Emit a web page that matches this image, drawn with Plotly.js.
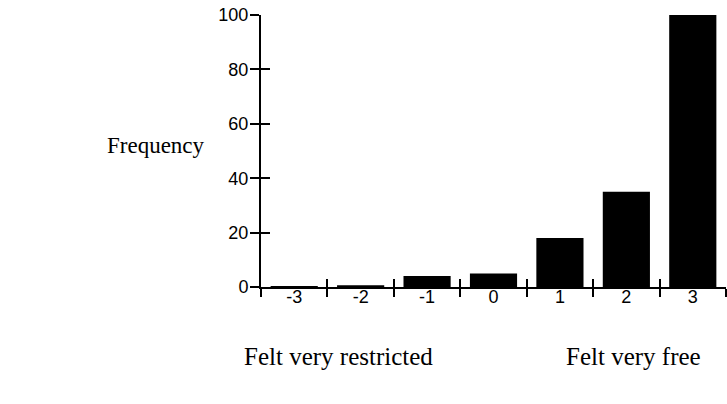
<!DOCTYPE html>
<html>
<head>
<meta charset="utf-8">
<script src="https://cdn.plot.ly/plotly-3.0.1.min.js"></script>
<style>html,body{margin:0;padding:0;background:#fff;}#chart{width:727px;height:404px;}</style>
</head>
<body>
<div id="chart"></div>
<script>
// Data
const categories = ['-3', '-2', '-1', '0', '1', '2', '3'];
const frequencies = [0.4, 0.6, 4, 5, 18, 35, 100];
const yTickValues = [0, 20, 40, 60, 80, 100];
const yTitle = 'Frequency';
const leftLabel = 'Felt very restricted';
const rightLabel = 'Felt very free';

const sansFont = {family: 'Liberation Sans, Arial, sans-serif', size: 18, color: '#000'};
const serifFamily = 'Liberation Serif, Times New Roman, serif';

const traces = [
  {
    type: 'bar', x: categories, y: frequencies,
    marker: {color: '#000', line: {width: 0}},
    hoverinfo: 'skip', showlegend: false
  },
  {
    // invisible twin on overlay axes so the crossing half of each tick is drawn
    type: 'bar', x: categories, y: frequencies, xaxis: 'x2', yaxis: 'y2',
    marker: {color: 'rgba(0,0,0,0)'}, hoverinfo: 'skip', showlegend: false
  }
];

const commonX = {
  type: 'category', categoryorder: 'array', categoryarray: categories,
  range: [-0.5, categories.length - 0.5], tickson: 'boundaries',
  ticklen: 8, tickwidth: 2, tickcolor: '#000',
  showgrid: false, zeroline: false, fixedrange: true
};
const commonY = {
  range: [0, 100], tickvals: yTickValues,
  ticklen: 9, tickwidth: 2, tickcolor: '#000',
  showgrid: false, zeroline: false, fixedrange: true
};

const layout = {
  width: 727, height: 404,
  margin: {l: 261, r: 1, t: 15, b: 117},
  paper_bgcolor: '#fff', plot_bgcolor: '#fff',
  bargap: 0.29,
  showlegend: false,
  xaxis: Object.assign({}, commonX, {
    ticks: 'outside', showline: true, linewidth: 2, linecolor: '#000',
    tickfont: sansFont, ticklabelstandoff: -8
  }),
  xaxis2: Object.assign({}, commonX, {
    overlaying: 'x', anchor: 'y', ticks: 'inside', showline: false, showticklabels: false
  }),
  yaxis: Object.assign({}, commonY, {
    ticks: 'outside', showline: true, linewidth: 2, linecolor: '#000',
    tickfont: sansFont, ticklabelstandoff: -2
  }),
  yaxis2: Object.assign({}, commonY, {
    overlaying: 'y', anchor: 'x', ticks: 'inside', showline: false, showticklabels: false
  }),
  annotations: [
    {text: yTitle, xref: 'paper', yref: 'paper', x: -0.226, y: 0.522,
     xanchor: 'center', yanchor: 'middle', showarrow: false,
     font: {family: serifFamily, size: 23, color: '#000'}},
    {text: leftLabel, xref: 'paper', yref: 'paper', x: 0.166, y: -0.254,
     xanchor: 'center', yanchor: 'middle', showarrow: false,
     font: {family: serifFamily, size: 25, color: '#000'}},
    {text: rightLabel, xref: 'paper', yref: 'paper', x: 0.802, y: -0.254,
     xanchor: 'center', yanchor: 'middle', showarrow: false,
     font: {family: serifFamily, size: 25, color: '#000'}}
  ]
};

Plotly.newPlot('chart', traces, layout, {displayModeBar: false, staticPlot: true});
</script>
</body>
</html>
